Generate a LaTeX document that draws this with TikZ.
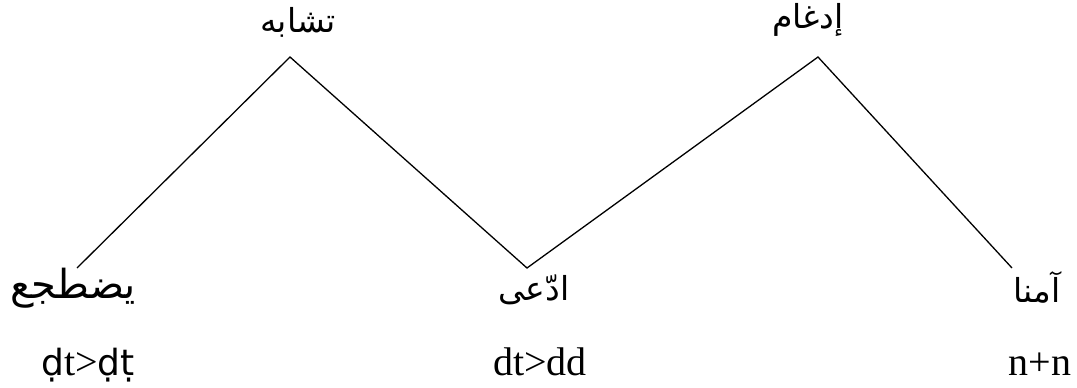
\documentclass[tikz,border=0pt]{standalone}
\usepackage{fontspec}
\setmainfont{Liberation Serif}
\newfontfamily\arabicfont[Script=Arabic]{DejaVu Sans}
\newfontfamily\trsans{DejaVu Sans}
\TeXXeTstate=1
\begin{document}
\begin{tikzpicture}[x=1pt,y=-1pt,
  arlabel/.style={inner sep=0pt,font=\arabicfont\fontsize{33}{36}\selectfont},
  trlabel/.style={inner sep=0pt,font=\fontsize{40}{44}\selectfont},
  link/.style={draw=black,line width=1.3pt}]
\useasboundingbox (0,0) rectangle (1077,388);
% vertices of the zigzag
\coordinate (l1) at (77,268);
\coordinate (a1) at (290,57);
\coordinate (v1) at (527,268);
\coordinate (a2) at (818,57);
\coordinate (r1) at (1012,268);
\draw[link] (l1) -- (a1) -- (v1) -- (a2) -- (r1);
% labels
\node[arlabel] (t1) at (298,22) {\beginR تشابه\endR};
\node[arlabel] (t2) at (808,20) {\beginR إدغام\endR};
\node[arlabel,font=\arabicfont\fontsize{40}{44}\selectfont] (b1) at (73,288) {\beginR يضطجع\endR};
\node[arlabel] (b2) at (534,290) {\beginR ادّعى\endR};
\node[arlabel] (b3) at (1037,287) {\beginR آمنا\endR};
\node[trlabel,anchor=base] (s1) at (88,375) {{\trsans\fontsize{36}{40}\selectfont ḍ}t>{\trsans\fontsize{36}{40}\selectfont ḍṭ}};
\node[trlabel,anchor=base] (s2) at (540,375) {dt>dd};
\node[trlabel,anchor=base] (s3) at (1040,375) {n+n};
\end{tikzpicture}
\end{document}
